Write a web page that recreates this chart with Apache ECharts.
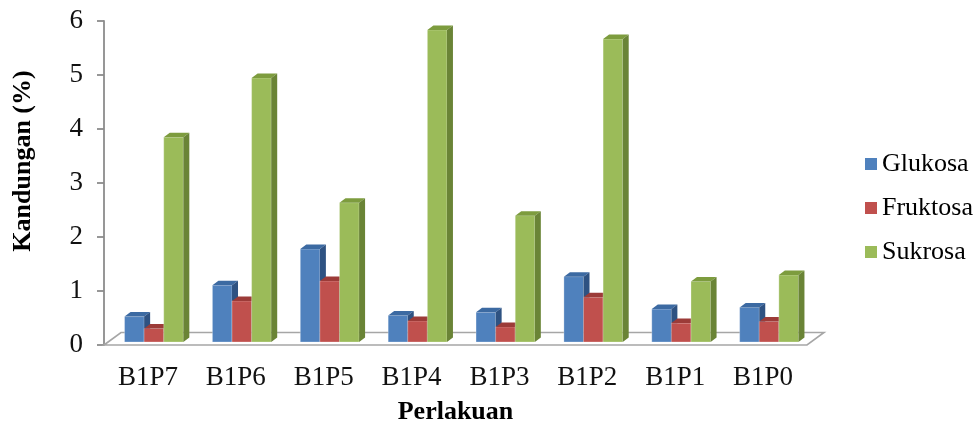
<!DOCTYPE html>
<html>
<head>
<meta charset="utf-8">
<script src="https://cdn.jsdelivr.net/npm/echarts@6/dist/echarts.min.js"></script>
<style>
  html, body { margin: 0; padding: 0; background: #fff; }
  #chart { width: 976px; height: 423px; }
</style>
</head>
<body>
<div id="chart"></div>
<script>
// data
var categories = ['B1P7', 'B1P6', 'B1P5', 'B1P4', 'B1P3', 'B1P2', 'B1P1', 'B1P0'];
var glukosa  = [0.47, 1.05, 1.72, 0.49, 0.55, 1.21, 0.61, 0.64];
var fruktosa = [0.25, 0.76, 1.13, 0.39, 0.28, 0.83, 0.35, 0.38];
var sukrosa  = [3.79, 4.89, 2.58, 5.78, 2.34, 5.61, 1.12, 1.24];
var yTicks = [0, 1, 2, 3, 4, 5, 6];

// face colours: front, top, side
var palette = [
  ['#4F81BD', '#3C6AA2', '#2E5282'],
  ['#C0504D', '#9C3B38', '#8A3230'],
  ['#9BBB59', '#7D9C3E', '#6A8436']
];

var FONT = 'Liberation Serif';
var BAR_FRAC = 0.223;   // one bar / category band
var OFF_X = 6, OFF_Y = -3;   // bars sit a bit back on the floor
var DEP_X = 6, DEP_Y = -4.5; // bar depth
var FLOOR_X = 17, FLOOR_Y = -12.5;

function toPairs(arr) {
  return arr.map(function (v, i) { return [i, v]; });
}

function renderBar(params, api) {
  var idx = api.value(0);
  var p0 = api.coord([idx, 0]);
  var p1 = api.coord([idx, api.value(1)]);
  var band = api.size([1, 0])[0];
  var w = band * BAR_FRAC;
  var slot = params.seriesIndex;
  var c = palette[slot];
  var x = p0[0] - 1.5 * w + slot * w + OFF_X;
  var yb = p0[1] + OFF_Y;
  var yt = p1[1] + OFF_Y;
  return {
    type: 'group',
    children: [
      {
        type: 'rect',
        shape: { x: x, y: yt, width: w, height: yb - yt },
        style: { fill: c[0], stroke: 'rgba(255,255,255,0.35)', lineWidth: 0.8 }
      },
      {
        type: 'polygon',
        shape: { points: [[x, yt], [x + DEP_X, yt + DEP_Y], [x + w + DEP_X, yt + DEP_Y], [x + w, yt]] },
        style: { fill: c[1] }
      },
      {
        type: 'polygon',
        shape: { points: [[x + w, yt], [x + w + DEP_X, yt + DEP_Y], [x + w + DEP_X, yb + DEP_Y], [x + w, yb]] },
        style: { fill: c[2] }
      }
    ]
  };
}

function renderFloor(params, api) {
  var cs = params.coordSys;
  var yb = cs.y + cs.height;
  var l = cs.x, r = cs.x + cs.width;
  return {
    type: 'polygon',
    shape: { points: [[l, yb], [l + FLOOR_X, yb + FLOOR_Y], [r + FLOOR_X, yb + FLOOR_Y], [r, yb]] },
    style: { fill: '#fff', stroke: '#A6A6A6', lineWidth: 1.6 },
    silent: true
  };
}

var chart = echarts.init(document.getElementById('chart'));
chart.setOption({
  animation: false,
  backgroundColor: '#fff',
  grid: { left: 104, right: 169, top: 21, bottom: 78, outerBoundsMode: 'none', containLabel: false },
  legend: {
    orient: 'vertical',
    left: 865,
    top: 151,
    padding: 0,
    itemWidth: 12,
    itemHeight: 12,
    itemGap: 18,
    itemStyle: { borderWidth: 0 },
    icon: 'rect',
    data: ['Glukosa', 'Fruktosa', 'Sukrosa'],
    textStyle: { fontFamily: FONT, fontSize: 26, color: '#000' }
  },
  xAxis: {
    type: 'category',
    data: categories,
    name: 'Perlakuan',
    nameLocation: 'middle',
    nameGap: 54,
    nameTextStyle: { fontFamily: FONT, fontSize: 26, fontWeight: 'bold', color: '#000' },
    axisLine: { show: false },
    axisTick: { show: false },
    axisLabel: { fontFamily: FONT, fontSize: 27, color: '#111', margin: 19 }
  },
  yAxis: {
    type: 'value',
    min: yTicks[0],
    max: yTicks[yTicks.length - 1],
    interval: 1,
    name: 'Kandungan (%)',
    nameLocation: 'middle',
    nameGap: 68,
    nameTextStyle: { fontFamily: FONT, fontSize: 26, fontWeight: 'bold', color: '#000', padding: [0, 0, 0, 44] },
    axisLine: { show: true, lineStyle: { color: '#8C8C8C', width: 1.8 } },
    axisTick: { show: true, length: 7, lineStyle: { color: '#8C8C8C', width: 1.8 } },
    splitLine: { show: false },
    axisLabel: { fontFamily: FONT, fontSize: 27, color: '#111', margin: 21 }
  },
  series: [
    { name: 'Glukosa', type: 'custom', renderItem: renderBar, data: toPairs(glukosa), itemStyle: { color: palette[0][0] }, z: 3 },
    { name: 'Fruktosa', type: 'custom', renderItem: renderBar, data: toPairs(fruktosa), itemStyle: { color: palette[1][0] }, z: 3 },
    { name: 'Sukrosa', type: 'custom', renderItem: renderBar, data: toPairs(sukrosa), itemStyle: { color: palette[2][0] }, z: 3 },
    { name: 'floor', type: 'custom', renderItem: renderFloor, data: [[0, 0]], z: 1, silent: true }
  ]
});
</script>
</body>
</html>
